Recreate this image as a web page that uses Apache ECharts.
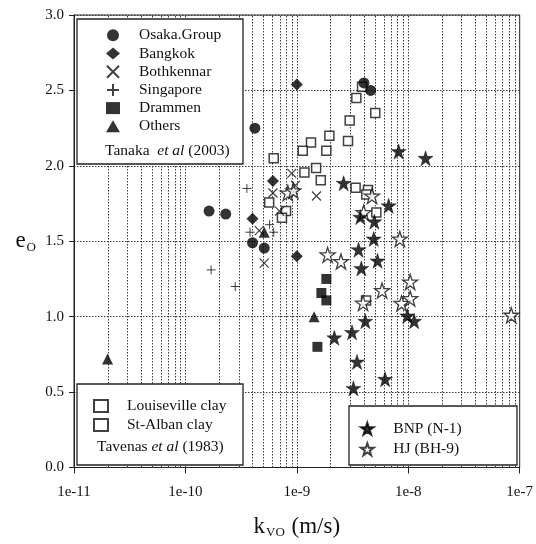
<!DOCTYPE html>
<html>
<head>
<meta charset="utf-8">
<script src="https://cdn.jsdelivr.net/npm/echarts@6/dist/echarts.min.js"></script>
<style>html,body{margin:0;padding:0;background:#fff}#c{width:536px;height:544px}</style>
</head>
<body>
<div id="c"></div>
<script>
// ---- data (k_vo in m/s, e_o) ----
const osakaK = [4.2e-10, 4.0e-9, 4.6e-9, 1.63e-10, 2.3e-10, 4.0e-10, 5.1e-10];
const osakaE = [2.25, 2.55, 2.50, 1.70, 1.68, 1.49, 1.455];
const bangkokK = [1.0e-9, 6.1e-10, 4.0e-10, 1.0e-9];
const bangkokE = [2.54, 1.90, 1.65, 1.40];
const bothK = [9.0e-10, 9.7e-10, 6.1e-10, 1.5e-9, 7.0e-10, 4.6e-10, 5.1e-10];
const bothE = [1.95, 1.87, 1.82, 1.80, 1.70, 1.57, 1.355];
const singK = [3.56e-10, 5.7e-10, 6.2e-10, 3.8e-10, 1.7e-10, 2.8e-10];
const singE = [1.85, 1.61, 1.56, 1.56, 1.31, 1.20];
const drammenK = [1.84e-9, 1.66e-9, 1.84e-9, 1.53e-9];
const drammenE = [1.25, 1.157, 1.108, 0.80];
const othersK = [5.1e-10, 1.43e-9, 2.0e-11];
const othersE = [1.56, 1.00, 0.72];
const louisK = [3.85e-9, 3.42e-9, 5.06e-9, 2.98e-9, 1.96e-9, 2.88e-9, 1.34e-9, 1.13e-9, 1.84e-9, 6.2e-10, 1.49e-9, 1.17e-9, 1.64e-9];
const louisE = [2.525, 2.45, 2.35, 2.30, 2.20, 2.165, 2.155, 2.10, 2.10, 2.05, 1.985, 1.955, 1.905];
const stAlbanK = [3.37e-9, 4.35e-9, 4.2e-9, 5.65e-10, 8.0e-10, 5.17e-9, 7.35e-10, 4.18e-9];
const stAlbanE = [1.855, 1.84, 1.81, 1.757, 1.70, 1.69, 1.655, 1.108];
const bnpK = [8.2e-9, 1.43e-8, 2.63e-9, 6.67e-9, 3.71e-9, 4.96e-9, 4.9e-9, 3.58e-9, 5.3e-9, 3.79e-9, 9.8e-9, 4.12e-9, 1.13e-8, 3.13e-9, 2.17e-9, 3.47e-9, 6.2e-9, 3.22e-9];
const bnpE = [2.095, 2.05, 1.885, 1.735, 1.66, 1.63, 1.515, 1.444, 1.37, 1.32, 1.005, 0.97, 0.97, 0.896, 0.86, 0.70, 0.585, 0.525];
const hjK = [8.3e-10, 9.3e-10, 4.73e-9, 3.98e-9, 8.4e-9, 1.89e-9, 2.49e-9, 1.04e-8, 5.82e-9, 1.04e-8, 8.7e-9, 3.93e-9, 8.4e-8];
const hjE = [1.82, 1.835, 1.80, 1.69, 1.515, 1.41, 1.366, 1.23, 1.173, 1.12, 1.088, 1.09, 1.01];

const xTickValues = [1e-11, 1e-10, 1e-9, 1e-8, 1e-7];
const xTickLabels = ['1e-11', '1e-10', '1e-9', '1e-8', '1e-7'];
const yTickLabels = ['0.0', '0.5', '1.0', '1.5', '2.0', '2.5', '3.0'];

const tanakaNames = ['Osaka.Group', 'Bangkok', 'Bothkennar', 'Singapore', 'Drammen', 'Others'];
const tavenasNames = ['Louiseville clay', 'St-Alban clay'];
const thisNames = ['BNP (N-1)', 'HJ (BH-9)'];

// vertical grid values (decades and 2..9 minors)
const gridK = [];
for (let d = -11; d < -7; d++) {
  for (let m = 1; m <= 9; m++) {
    if (m === 1 && d === -11) continue;
    gridK.push(m * Math.pow(10, d));
  }
}

const zip = (a, b) => a.map((v, i) => [v, b[i]]);
const FONT = 'Liberation Serif, Times New Roman, serif';
const STAR = 'path://M50,0L61.8,35.3L100,35.3L69.1,57.7L80.9,95.1L50,72.7L19.1,95.1L30.9,57.7L0,35.3L38.2,35.3Z';
const XMARK = 'path://M0,0L10,10M10,0L0,10';
const PLUS = 'path://M5,0L5,10M0,5L10,5';
const GRIDC = '#3a3a3a';

const chart = echarts.init(document.getElementById('c'), null, {renderer: 'canvas'});

function legendCfg(names, left, top, gap) {
  return {
    data: names, orient: 'vertical', left: left, top: top, padding: 0,
    itemWidth: 14, itemHeight: 12, itemGap: gap, z: 10, selectedMode: false,
    textStyle: {fontFamily: FONT, fontSize: 15.5, color: '#111', lineHeight: 14, padding: [0, 0, 0, 14]}
  };
}

const option = {
  animation: false,
  backgroundColor: '#fff',
  grid: {left: 74, right: 16, top: 15, bottom: 75, show: true, borderColor: '#222', borderWidth: 1, backgroundColor: 'transparent'},
  xAxis: {
    type: 'log', logBase: 10, min: 1e-11, max: 1e-7,
    name: '{k|k}{s|VO}{k| (m/s)}', nameLocation: 'middle', nameGap: 46,
    nameTextStyle: {rich: {
      k: {fontFamily: FONT, fontSize: 23, color: '#111', lineHeight: 26},
      s: {fontFamily: FONT, fontSize: 13, color: '#111', lineHeight: 13, padding: [12, 1, 0, 1]}
    }},
    axisLine: {show: true, lineStyle: {color: '#222', width: 1}},
    axisTick: {show: true, inside: false, length: 6, lineStyle: {color: '#222'}},
    minorTick: {show: false},
    splitLine: {show: false},
    axisLabel: {
      margin: 17, fontFamily: FONT, fontSize: 15, color: '#111',
      formatter: v => { const i = xTickValues.findIndex(t => Math.abs(Math.log10(t) - Math.log10(v)) < 1e-6); return i >= 0 ? xTickLabels[i] : ''; }
    }
  },
  yAxis: {
    type: 'value', min: 0, max: 3, interval: 0.5,
    name: '{e|e}{s|O}', nameLocation: 'middle', nameGap: 38, nameRotate: 0,
    nameTextStyle: {rich: {
      e: {fontFamily: FONT, fontSize: 23, color: '#111', lineHeight: 26},
      s: {fontFamily: FONT, fontSize: 13, color: '#111', lineHeight: 13, padding: [12, 0, 0, 1]}
    }},
    axisLine: {show: true, lineStyle: {color: '#222', width: 1}},
    axisTick: {show: true, inside: false, length: 5, lineStyle: {color: '#222'}},
    splitLine: {show: true, lineStyle: {color: GRIDC, type: [1.5, 1.5], width: 1}},
    axisLabel: {margin: 10, fontFamily: FONT, fontSize: 15, color: '#111',
      formatter: v => yTickLabels[Math.round(v / 0.5)]}
  },
  legend: [
    legendCfg(tanakaNames, 106, 27.3, 2.2),
    legendCfg(tavenasNames, 93, 398, 3),
    legendCfg(thisNames, 360, 420.7, 4.6)
  ],
  graphic: [
    {type: 'rect', z: 8, shape: {x: 77, y: 19, width: 166, height: 145}, style: {fill: '#fff', stroke: '#222', lineWidth: 1.3}},
    {type: 'rect', z: 8, shape: {x: 77, y: 384, width: 166, height: 81}, style: {fill: '#fff', stroke: '#222', lineWidth: 1.3}},
    {type: 'rect', z: 8, shape: {x: 349, y: 406, width: 168, height: 59}, style: {fill: '#fff', stroke: '#222', lineWidth: 1.3}},
    {type: 'text', z: 10, x: 105, y: 151, style: {text: '{n|Tanaka  }{i|et al}{n| (2003)}', verticalAlign: 'middle',
      rich: {n: {fontFamily: FONT, fontSize: 15.5, fill: '#111'}, i: {fontFamily: FONT, fontSize: 15.5, fontStyle: 'italic', fill: '#111'}}}},
    {type: 'text', z: 10, x: 97, y: 447, style: {text: '{n|Tavenas }{i|et al}{n| (1983)}', verticalAlign: 'middle',
      rich: {n: {fontFamily: FONT, fontSize: 15.5, fill: '#111'}, i: {fontFamily: FONT, fontSize: 15.5, fontStyle: 'italic', fill: '#111'}}}}
  ],
  series: [
    {name: 'vgrid', type: 'custom', z: 1, silent: true, data: gridK.map(v => [v]),
      encode: {x: 0},
      renderItem: (params, api) => {
        const v = api.value(0);
        const p0 = api.coord([v, 0]);
        const p1 = api.coord([v, 3]);
        return {type: 'line', shape: {x1: Math.round(p0[0]) + 0.5, y1: p0[1], x2: Math.round(p1[0]) + 0.5, y2: p1[1]},
          style: {stroke: GRIDC, lineWidth: 1, lineDash: [1.5, 1.5]}};
      }},
    {name: 'Louiseville clay', type: 'scatter', data: zip(louisK, louisE), symbol: 'rect', symbolSize: 9,
      itemStyle: {color: '#fff', borderColor: '#111', borderWidth: 1.5}},
    {name: 'St-Alban clay', type: 'scatter', data: zip(stAlbanK, stAlbanE), symbol: 'rect', symbolSize: 9,
      itemStyle: {color: '#fff', borderColor: '#111', borderWidth: 1.5}},
    {name: 'HJ (BH-9)', type: 'scatter', data: zip(hjK, hjE), symbol: STAR, symbolSize: 15,
      itemStyle: {color: '#fff', borderColor: '#111', borderWidth: 1.3}},
    {name: 'BNP (N-1)', type: 'scatter', data: zip(bnpK, bnpE), symbol: STAR, symbolSize: 15,
      itemStyle: {color: '#000', borderColor: '#000', borderWidth: 0.5}},
    {name: 'Osaka.Group', type: 'scatter', data: zip(osakaK, osakaE), symbol: 'circle', symbolSize: 11,
      itemStyle: {color: '#000'}},
    {name: 'Bangkok', type: 'scatter', data: zip(bangkokK, bangkokE), symbol: 'diamond', symbolSize: 12,
      itemStyle: {color: '#000'}},
    {name: 'Bothkennar', type: 'scatter', data: zip(bothK, bothE), symbol: XMARK, symbolSize: 9,
      itemStyle: {color: 'rgba(0,0,0,0)', borderColor: '#111', borderWidth: 1.2}},
    {name: 'Singapore', type: 'scatter', data: zip(singK, singE), symbol: PLUS, symbolSize: 9,
      itemStyle: {color: 'rgba(0,0,0,0)', borderColor: '#111', borderWidth: 1}},
    {name: 'Drammen', type: 'scatter', data: zip(drammenK, drammenE), symbol: 'rect', symbolSize: 10,
      itemStyle: {color: '#000'}},
    {name: 'Others', type: 'scatter', data: zip(othersK, othersE), symbol: 'triangle', symbolSize: 11,
      itemStyle: {color: '#000'}}
  ]
};
chart.setOption(option);
</script>
</body>
</html>
